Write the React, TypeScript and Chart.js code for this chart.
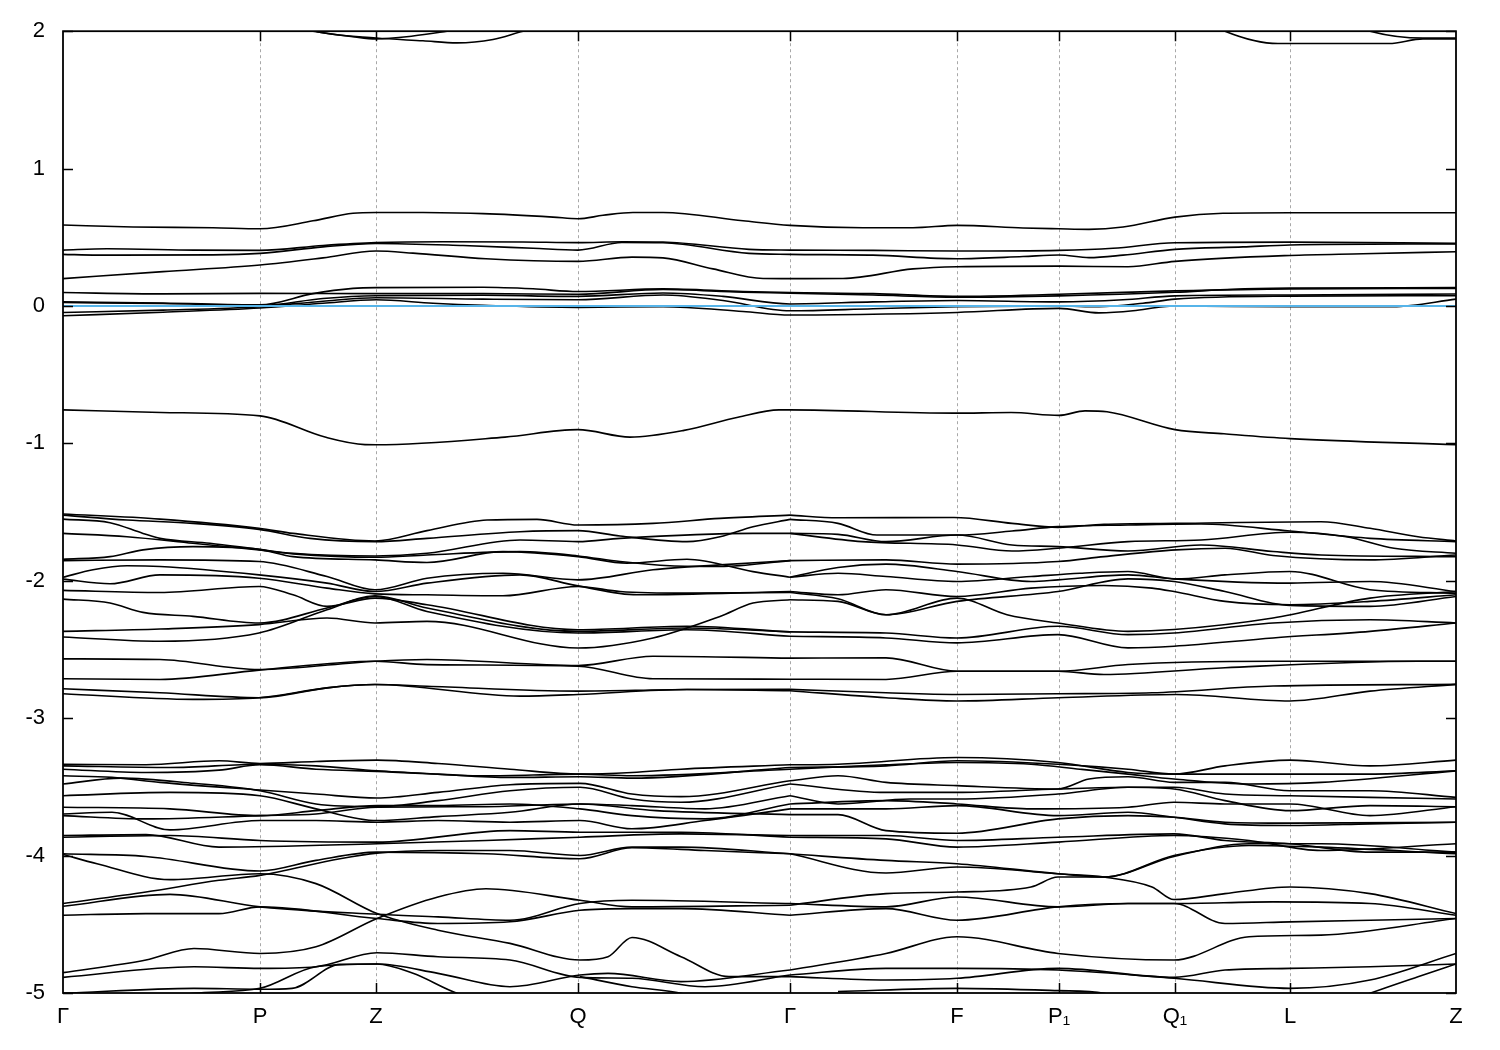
import React, { useEffect, useRef } from "react";
import { Chart, registerables } from "chart.js";

Chart.register(...registerables);

// High-symmetry points along the k-path (path length units) and their labels
const kPositions = [0, 197, 313, 515, 727, 894, 996, 1112, 1227, 1393];
const kLabels = ["Γ", "P", "Z", "Q", "Γ", "F", "P₁", "Q₁", "L", "Z"];

// Fermi level
const fermiLevel = 0;

// ---- bands near 2 eV ----
const bandT1 = [[220, 2.04], [250, 2.0], [290, 1.96], [313, 1.944], [350, 1.965], [384, 2.0], [410, 2.03]];
const bandT2 = [[240, 2.03], [258, 1.99], [313, 1.95], [360, 1.93], [394, 1.915], [430, 1.94], [460, 2.0], [490, 2.05]];
const bandT3 = [[1150, 2.05], [1162, 2.0], [1215, 1.91], [1326, 1.91], [1360, 1.944], [1393, 1.944]];
const bandT4 = [[1290, 2.05], [1307, 2.0], [1360, 1.95], [1393, 1.95]];

// ---- bands 0.2 .. 0.7 eV ----
const bandC1 = [[0, 0.589], [70, 0.575], [150, 0.57], [197, 0.562], [250, 0.62], [290, 0.675], [313, 0.681], [360, 0.68], [420, 0.672], [490, 0.647], [515, 0.635], [540, 0.66], [570, 0.681], [600, 0.681], [680, 0.62], [727, 0.587], [800, 0.57], [850, 0.57], [894, 0.587], [960, 0.568], [996, 0.562], [1026, 0.558], [1060, 0.575], [1112, 0.647], [1160, 0.675], [1227, 0.679], [1393, 0.679]];
const bandC2 = [[0, 0.407], [44, 0.417], [131, 0.407], [197, 0.405], [260, 0.44], [313, 0.461], [380, 0.468], [460, 0.466], [515, 0.461], [560, 0.468], [600, 0.466], [686, 0.412], [727, 0.407], [810, 0.405], [894, 0.4], [996, 0.405], [1050, 0.42], [1112, 0.46], [1227, 0.465], [1393, 0.456]];
const bandC3 = [[0, 0.376], [34, 0.37], [150, 0.372], [197, 0.383], [260, 0.43], [313, 0.455], [400, 0.44], [470, 0.42], [515, 0.407], [559, 0.462], [600, 0.46], [686, 0.383], [727, 0.376], [810, 0.37], [894, 0.344], [960, 0.36], [996, 0.371], [1026, 0.352], [1060, 0.37], [1112, 0.412], [1180, 0.43], [1227, 0.444], [1393, 0.452]];
const bandC4 = [[0, 0.199], [100, 0.25], [197, 0.298], [260, 0.35], [313, 0.4], [350, 0.385], [423, 0.344], [515, 0.325], [569, 0.356], [600, 0.35], [650, 0.27], [700, 0.2], [727, 0.199], [780, 0.2], [850, 0.27], [894, 0.286], [996, 0.29], [1065, 0.286], [1112, 0.325], [1227, 0.368], [1300, 0.38], [1393, 0.395]];

// ---- bands at the Fermi level ----
const bandN1 = [[0, 0.098], [100, 0.088], [197, 0.092], [313, 0.09], [420, 0.09], [515, 0.085], [600, 0.12], [680, 0.1], [727, 0.094], [810, 0.08], [894, 0.064], [996, 0.074], [1112, 0.1], [1170, 0.122], [1227, 0.13], [1393, 0.134]];
const bandN2 = [[0, 0.03], [100, 0.022], [197, 0.008], [250, 0.09], [290, 0.128], [313, 0.134], [420, 0.136], [470, 0.125], [515, 0.105], [600, 0.125], [680, 0.105], [727, 0.098], [810, 0.09], [894, 0.07], [996, 0.085], [1112, 0.11], [1227, 0.125], [1393, 0.128]];
const bandN3 = [[0, 0.025], [100, 0.018], [197, 0.003], [260, 0.055], [313, 0.075], [420, 0.078], [515, 0.07], [600, 0.095], [660, 0.07], [727, 0.015], [810, 0.03], [894, 0.04], [996, 0.03], [1060, 0.045], [1112, 0.074], [1227, 0.08], [1393, 0.087]];
const bandN4 = [[0, -0.047], [100, -0.03], [197, -0.005], [260, 0.035], [313, 0.06], [420, 0.05], [515, 0.045], [600, 0.08], [660, 0.04], [727, -0.035], [810, -0.02], [894, -0.005], [996, 0.0], [1036, -0.005], [1080, 0.02], [1112, 0.05], [1227, 0.072], [1393, 0.075]];
const bandN5 = [[0, -0.071], [100, -0.045], [197, -0.015], [260, 0.02], [313, 0.045], [370, 0.02], [420, 0.005], [515, -0.01], [600, -0.005], [680, -0.04], [727, -0.066], [810, -0.06], [894, -0.047], [996, -0.017], [1036, -0.05], [1070, -0.035], [1100, -0.005], [1112, 0.0], [1227, -0.005], [1330, -0.005], [1393, 0.05]];

// ---- band near -0.8 .. -1 eV ----
const bandM1 = [[0, -0.756], [98, -0.775], [197, -0.8], [262, -0.954], [302, -1.009], [313, -1.01], [442, -0.954], [515, -0.9], [567, -0.954], [621, -0.905], [675, -0.81], [716, -0.756], [727, -0.756], [891, -0.78], [948, -0.775], [996, -0.796], [1022, -0.763], [1044, -0.77], [1112, -0.9], [1161, -0.93], [1227, -0.965], [1393, -1.009]];

// ---- bands -1.5 .. -2.9 eV, Γ -> P -> Z -> Q -> Γ ----
const bandDa = [[0, -1.514], [97, -1.551], [196, -1.618], [230, -1.655], [312, -1.71], [364, -1.635], [424, -1.558], [474, -1.553], [515, -1.594], [590, -1.582], [657, -1.546], [727, -1.522]];
const bandDb = [[0, -1.522], [64, -1.558], [130, -1.582], [196, -1.626], [247, -1.691], [312, -1.715], [364, -1.691], [457, -1.643], [515, -1.635], [557, -1.674], [624, -1.715], [657, -1.679], [690, -1.606], [727, -1.553]];
const bandDc = [[0, -1.551], [47, -1.577], [80, -1.655], [97, -1.691], [147, -1.727], [196, -1.771], [230, -1.8], [312, -1.819], [364, -1.8], [457, -1.703], [515, -1.715], [557, -1.691], [690, -1.655], [727, -1.655]];
const bandDd = [[0, -1.655], [64, -1.679], [130, -1.727], [196, -1.775], [230, -1.804], [312, -1.829], [364, -1.812], [457, -1.788], [515, -1.819], [557, -1.86], [607, -1.891], [657, -1.896], [727, -1.853]];
const bandDe = [[0, -1.843], [47, -1.824], [80, -1.775], [130, -1.751], [196, -1.771], [230, -1.824], [312, -1.848], [364, -1.867], [440, -1.788], [515, -1.824], [564, -1.872], [624, -1.843], [690, -1.933], [727, -1.974]];
const bandDf = [[0, -1.853], [97, -1.848], [196, -1.86], [264, -1.969], [312, -2.065], [364, -1.981], [440, -1.945], [515, -1.993], [590, -1.92], [657, -1.884], [727, -1.853]];
const bandDg = [[0, -1.974], [30, -1.92], [64, -1.891], [97, -1.896], [196, -1.957], [264, -2.017], [312, -2.078], [364, -2.017], [457, -1.957], [515, -2.037], [574, -2.102], [727, -2.078]];
const bandDh = [[0, -1.988], [47, -2.022], [97, -1.957], [196, -1.981], [264, -2.053], [312, -2.095], [364, -2.102], [440, -2.109], [515, -2.041], [557, -2.078], [624, -2.09], [727, -2.085]];
const bandDi = [[0, -2.07], [97, -2.085], [196, -2.041], [230, -2.102], [264, -2.186], [312, -2.126], [364, -2.174], [515, -2.356], [624, -2.331], [727, -2.372]];
const bandDj = [[0, -2.133], [47, -2.162], [80, -2.23], [130, -2.259], [196, -2.307], [264, -2.198], [312, -2.114], [364, -2.223], [515, -2.38], [624, -2.356], [727, -2.404]];
const bandDk = [[0, -2.368], [97, -2.351], [196, -2.319], [264, -2.271], [312, -2.307], [364, -2.295], [515, -2.489], [590, -2.416], [657, -2.259], [690, -2.162], [727, -2.138]];
const bandDl = [[0, -2.409], [97, -2.44], [196, -2.38], [264, -2.211], [312, -2.109], [364, -2.198], [515, -2.368], [624, -2.343], [727, -2.372]];
const bandDm = [[0, -2.568], [97, -2.573], [196, -2.646], [312, -2.585], [364, -2.573], [515, -2.617], [590, -2.549], [727, -2.563]];
const bandDn = [[0, -2.713], [97, -2.718], [196, -2.65], [312, -2.585], [364, -2.61], [515, -2.622], [590, -2.713], [727, -2.716]];
const bandDo = [[0, -2.786], [97, -2.815], [196, -2.851], [264, -2.779], [312, -2.755], [364, -2.767], [515, -2.803], [624, -2.791], [727, -2.79]];
const bandDp = [[0, -2.822], [130, -2.863], [196, -2.851], [264, -2.779], [312, -2.755], [457, -2.839], [515, -2.827], [624, -2.791], [727, -2.8]];

// ---- bands -1.5 .. -2.9 eV, Γ -> F -> P1 -> Q1 -> L -> Z ----
const bandR1 = [[727, -1.522], [775, -1.541], [891, -1.539], [949, -1.582], [995, -1.611], [1041, -1.589], [1113, -1.582], [1258, -1.57], [1307, -1.618], [1355, -1.679], [1393, -1.71]];
const bandR2 = [[727, -1.553], [775, -1.582], [814, -1.667], [894, -1.667], [949, -1.638], [995, -1.606], [1065, -1.594], [1138, -1.587], [1227, -1.638], [1307, -1.691], [1393, -1.715]];
const bandR3 = [[727, -1.655], [799, -1.715], [894, -1.739], [949, -1.783], [995, -1.763], [1065, -1.715], [1138, -1.703], [1227, -1.647], [1283, -1.679], [1331, -1.763], [1393, -1.8]];
const bandR4 = [[727, -1.655], [775, -1.662], [823, -1.715], [894, -1.667], [949, -1.739], [995, -1.751], [1065, -1.783], [1138, -1.739], [1210, -1.787], [1258, -1.812], [1393, -1.824]];
const bandR5 = [[727, -1.853], [823, -1.848], [894, -1.879], [995, -1.86], [1041, -1.824], [1113, -1.775], [1162, -1.763], [1210, -1.816], [1307, -1.848], [1393, -1.812]];
const bandR6 = [[727, -1.974], [775, -1.903], [823, -1.879], [894, -1.932], [968, -2.005], [995, -1.993], [1065, -1.957], [1111, -1.986], [1227, -2.017], [1307, -2.005], [1393, -2.078]];
const bandR7 = [[727, -1.974], [775, -1.945], [823, -1.969], [894, -2.005], [968, -1.969], [1017, -1.945], [1065, -1.932], [1113, -1.986], [1162, -1.957], [1227, -1.932], [1307, -2.065], [1393, -2.09]];
const bandR8 = [[727, -2.078], [775, -2.102], [823, -2.065], [894, -2.114], [968, -2.053], [1041, -2.034], [1089, -2.053], [1111, -2.078], [1162, -2.15], [1227, -2.174], [1307, -2.15], [1393, -2.102]];
const bandR9 = [[727, -2.085], [775, -2.131], [823, -2.247], [894, -2.15], [995, -2.078], [1065, -1.986], [1111, -2.005], [1162, -2.078], [1227, -2.179], [1307, -2.186], [1393, -2.114]];
const bandR10 = [[727, -2.138], [775, -2.15], [823, -2.247], [894, -2.126], [944, -2.247], [995, -2.307], [1065, -2.368], [1111, -2.355], [1210, -2.271], [1307, -2.126], [1393, -2.078]];
const bandR11 = [[727, -2.372], [823, -2.38], [894, -2.416], [995, -2.331], [1065, -2.392], [1111, -2.38], [1210, -2.307], [1307, -2.283], [1393, -2.307]];
const bandR12 = [[727, -2.404], [823, -2.416], [894, -2.452], [995, -2.392], [1065, -2.488], [1111, -2.476], [1210, -2.416], [1307, -2.368], [1393, -2.307]];
const bandR13 = [[727, -2.563], [823, -2.561], [894, -2.658], [995, -2.658], [1065, -2.609], [1210, -2.585], [1393, -2.585]];
const bandR14 = [[727, -2.716], [823, -2.718], [894, -2.658], [995, -2.658], [1041, -2.682], [1162, -2.633], [1355, -2.585], [1393, -2.585]];
const bandR15 = [[727, -2.79], [823, -2.815], [894, -2.827], [995, -2.822], [1089, -2.815], [1210, -2.766], [1393, -2.754]];
const bandR16 = [[727, -2.8], [823, -2.851], [894, -2.875], [995, -2.851], [1113, -2.827], [1227, -2.875], [1307, -2.803], [1393, -2.754]];

// ---- bands -3.3 .. -5 eV, Γ -> P -> Z -> Q -> Γ ----
const bandEL1 = [[0, -3.335], [83, -3.339], [156, -3.31], [197, -3.33], [253, -3.315], [314, -3.305], [375, -3.33], [447, -3.371], [517, -3.407], [569, -3.395], [618, -3.371], [727, -3.339]];
const bandEL2 = [[0, -3.347], [107, -3.359], [197, -3.335], [253, -3.347], [314, -3.383], [375, -3.407], [447, -3.431], [517, -3.426], [569, -3.436], [727, -3.359]];
const bandEL3 = [[0, -3.371], [83, -3.395], [156, -3.378], [197, -3.339], [253, -3.371], [314, -3.387], [423, -3.419], [517, -3.407], [569, -3.419], [727, -3.371]];
const bandEL4 = [[0, -3.419], [49, -3.431], [97, -3.467], [197, -3.523], [253, -3.552], [314, -3.581], [375, -3.54], [447, -3.484], [517, -3.474], [569, -3.552], [618, -3.571], [727, -3.455]];
const bandEL5 = [[0, -3.479], [58, -3.436], [131, -3.474], [197, -3.528], [253, -3.624], [314, -3.644], [375, -3.6], [447, -3.528], [517, -3.503], [569, -3.588], [618, -3.612], [727, -3.479]];
const bandEL6 = [[0, -3.564], [107, -3.54], [197, -3.564], [253, -3.66], [314, -3.745], [375, -3.716], [447, -3.685], [517, -3.624], [569, -3.636], [642, -3.66], [727, -3.564]];
const bandEL7 = [[0, -3.648], [107, -3.66], [197, -3.709], [253, -3.673], [314, -3.636], [375, -3.636], [447, -3.624], [517, -3.66], [569, -3.709], [642, -3.733], [727, -3.624]];
const bandEL8 = [[0, -3.697], [49, -3.685], [107, -3.813], [197, -3.745], [253, -3.745], [314, -3.757], [375, -3.745], [447, -3.757], [517, -3.745], [569, -3.805], [642, -3.745], [727, -3.66]];
const bandEL9 = [[0, -3.709], [83, -3.733], [197, -3.709], [253, -3.697], [314, -3.648], [423, -3.644], [517, -3.624], [593, -3.673], [727, -3.702]];
const bandEL10 = [[0, -3.854], [83, -3.847], [156, -3.938], [314, -3.914], [423, -3.89], [517, -3.866], [618, -3.842], [727, -3.854]];
const bandEL11 = [[0, -3.866], [107, -3.854], [197, -3.89], [314, -3.902], [447, -3.818], [517, -3.83], [618, -3.83], [727, -3.866]];
const bandEL12 = [[0, -3.987], [83, -4.006], [197, -4.112], [253, -4.035], [314, -3.975], [423, -3.987], [517, -4.023], [569, -3.943], [642, -3.963], [727, -3.987]];
const bandEL13 = [[0, -3.992], [34, -4.059], [107, -4.175], [197, -4.132], [253, -4.204], [314, -4.422], [375, -4.543], [447, -4.639], [517, -4.76], [545, -4.736], [569, -4.596], [618, -4.736], [666, -4.881], [727, -4.881]];
const bandEL14 = [[0, -4.349], [83, -4.265], [156, -4.18], [197, -4.144], [277, -4.023], [314, -3.982], [375, -3.963], [447, -3.963], [517, -3.999], [569, -3.938], [618, -3.938], [727, -3.987]];
const bandEL15 = [[0, -4.369], [107, -4.282], [197, -4.373], [314, -4.427], [375, -4.446], [447, -4.47], [517, -4.349], [569, -4.325], [727, -4.349]];
const bandEL16 = [[0, -4.434], [83, -4.422], [156, -4.422], [197, -4.373], [314, -4.458], [375, -4.494], [447, -4.482], [517, -4.398], [569, -4.386], [618, -4.386], [727, -4.434]];
const bandEL17 = [[0, -4.852], [83, -4.76], [131, -4.676], [197, -4.712], [253, -4.664], [314, -4.458], [375, -4.301], [423, -4.241], [517, -4.325], [569, -4.373], [727, -4.361]];
const bandEL18 = [[0, -4.886], [131, -4.809], [197, -4.821], [253, -4.809], [314, -4.707], [375, -4.736], [447, -4.76], [517, -4.886], [569, -4.893], [642, -4.954], [727, -4.869]];
const bandEL19 = [[0, -5.002], [131, -4.966], [197, -4.973], [229, -4.966], [277, -4.792], [314, -4.789], [375, -4.857], [447, -4.954], [517, -4.869], [545, -4.857], [618, -4.917], [727, -4.833]];
const bandEL20 = [[83, -5.05], [131, -5.002], [197, -4.966], [253, -4.809], [314, -4.789], [350, -4.857], [394, -5.002], [420, -5.05]];
const bandEL21 = [[517, -4.881], [569, -4.954], [618, -5.002], [640, -5.05]];

// ---- bands -3.3 .. -5 eV, Γ -> F -> P1 -> Q1 -> L -> Z ----
const bandER1 = [[727, -3.339], [775, -3.335], [894, -3.286], [995, -3.322], [1065, -3.395], [1111, -3.407], [1162, -3.347], [1227, -3.305], [1307, -3.347], [1393, -3.305]];
const bandER2 = [[727, -3.359], [823, -3.347], [894, -3.31], [995, -3.335], [1065, -3.371], [1111, -3.407], [1227, -3.407], [1307, -3.407], [1393, -3.383]];
const bandER3 = [[727, -3.371], [823, -3.339], [894, -3.322], [968, -3.335], [1017, -3.371], [1065, -3.407], [1111, -3.443], [1186, -3.479], [1258, -3.467], [1393, -3.383]];
const bandER4 = [[727, -3.455], [775, -3.419], [823, -3.467], [894, -3.491], [995, -3.515], [1026, -3.443], [1065, -3.426], [1111, -3.467], [1162, -3.467], [1227, -3.528], [1307, -3.528], [1393, -3.576]];
const bandER5 = [[727, -3.479], [823, -3.54], [894, -3.54], [995, -3.515], [1065, -3.503], [1111, -3.503], [1162, -3.552], [1227, -3.564], [1307, -3.576], [1393, -3.588]];
const bandER6 = [[727, -3.564], [775, -3.624], [847, -3.588], [894, -3.588], [995, -3.552], [1065, -3.503], [1111, -3.515], [1162, -3.6], [1227, -3.673], [1307, -3.636], [1393, -3.644]];
const bandER7 = [[727, -3.624], [823, -3.6], [894, -3.624], [968, -3.66], [1065, -3.648], [1111, -3.612], [1162, -3.624], [1227, -3.624], [1307, -3.709], [1393, -3.644]];
const bandER8 = [[727, -3.66], [823, -3.66], [894, -3.636], [995, -3.709], [1065, -3.685], [1111, -3.721], [1162, -3.769], [1227, -3.781], [1307, -3.769], [1393, -3.757]];
const bandER9 = [[727, -3.702], [775, -3.702], [823, -3.818], [894, -3.837], [995, -3.733], [1065, -3.709], [1111, -3.721], [1162, -3.757], [1227, -3.764], [1393, -3.757]];
const bandER10 = [[727, -3.854], [823, -3.854], [894, -3.89], [995, -3.866], [1111, -3.842], [1162, -3.89], [1227, -3.914], [1307, -3.975], [1393, -3.975]];
const bandER11 = [[727, -3.866], [823, -3.878], [894, -3.938], [995, -3.902], [1111, -3.854], [1186, -3.89], [1258, -3.963], [1393, -3.914]];
const bandER12 = [[727, -3.987], [823, -4.127], [894, -4.083], [995, -4.132], [1041, -4.156], [1111, -3.999], [1186, -3.926], [1258, -3.938], [1393, -3.987]];
const bandER13 = [[727, -3.987], [823, -4.035], [894, -4.059], [995, -4.132], [1041, -4.156], [1089, -4.228], [1111, -4.32], [1162, -4.277], [1227, -4.228], [1307, -4.277], [1393, -4.422]];
const bandER14 = [[727, -4.361], [823, -4.277], [894, -4.265], [968, -4.228], [995, -4.156], [1041, -4.156], [1111, -4.006], [1186, -3.914], [1258, -3.914], [1393, -3.975]];
const bandER15 = [[727, -4.349], [823, -4.373], [894, -4.301], [995, -4.373], [1065, -4.349], [1111, -4.349], [1210, -4.337], [1307, -4.349], [1393, -4.434]];
const bandER16 = [[727, -4.434], [823, -4.386], [894, -4.47], [995, -4.373], [1065, -4.349], [1111, -4.349], [1162, -4.494], [1227, -4.482], [1307, -4.47], [1393, -4.458]];
const bandER17 = [[727, -4.833], [823, -4.712], [894, -4.591], [995, -4.712], [1111, -4.76], [1186, -4.591], [1258, -4.579], [1393, -4.458]];
const bandER18 = [[727, -4.869], [823, -4.821], [894, -4.821], [995, -4.833], [1111, -4.893], [1227, -4.966], [1307, -4.905], [1393, -4.712]];
const bandER19 = [[727, -4.881], [823, -4.905], [894, -4.893], [995, -4.821], [1111, -4.886], [1162, -4.833], [1227, -4.821], [1307, -4.809], [1393, -4.789]];
const bandER20 = [[775, -4.99], [894, -4.966], [995, -4.983], [1041, -5.002], [1060, -5.05]];
const bandER21 = [[1290, -5.05], [1307, -5.002], [1355, -4.881], [1393, -4.789]];

const allBands = [
  bandT1, bandT2, bandT3, bandT4,
  bandC1, bandC2, bandC3, bandC4,
  bandN1, bandN2, bandN3, bandN4, bandN5,
  bandM1,
  bandDa, bandDb, bandDc, bandDd, bandDe, bandDf, bandDg, bandDh, bandDi, bandDj, bandDk, bandDl, bandDm, bandDn, bandDo, bandDp,
  bandR1, bandR2, bandR3, bandR4, bandR5, bandR6, bandR7, bandR8, bandR9, bandR10, bandR11, bandR12, bandR13, bandR14, bandR15, bandR16,
  bandEL1, bandEL2, bandEL3, bandEL4, bandEL5, bandEL6, bandEL7, bandEL8, bandEL9, bandEL10, bandEL11, bandEL12, bandEL13, bandEL14, bandEL15, bandEL16, bandEL17, bandEL18, bandEL19, bandEL20, bandEL21,
  bandER1, bandER2, bandER3, bandER4, bandER5, bandER6, bandER7, bandER8, bandER9, bandER10, bandER11, bandER12, bandER13, bandER14, bandER15, bandER16, bandER17, bandER18, bandER19, bandER20, bandER21,
];

const FONT = "'Liberation Sans', Arial, sans-serif";

const framePlugin = {
  id: "bandFrame",
  beforeDatasetsDraw(chart: any) {
    const { ctx, chartArea } = chart;
    const xs = chart.scales.x;
    ctx.save();
    ctx.strokeStyle = "#a8a8a8";
    ctx.lineWidth = 1;
    ctx.setLineDash([3, 3]);
    kPositions.slice(1, -1).forEach((k) => {
      const px = Math.round(xs.getPixelForValue(k)) + 0.5;
      ctx.beginPath();
      ctx.moveTo(px, chartArea.top);
      ctx.lineTo(px, chartArea.bottom);
      ctx.stroke();
    });
    ctx.restore();
  },
  afterDatasetsDraw(chart: any) {
    const { ctx, chartArea } = chart;
    const { left, right, top, bottom } = chartArea;
    const xs = chart.scales.x;
    const ys = chart.scales.y;
    ctx.save();
    ctx.strokeStyle = "#000";
    ctx.lineWidth = 1.8;
    ctx.setLineDash([]);
    ctx.strokeRect(left, top, right - left, bottom - top);
    ctx.lineWidth = 1.5;
    const tl = 10;
    ys.ticks.forEach((t: any) => {
      const py = Math.round(ys.getPixelForValue(t.value)) + 0.5;
      ctx.beginPath();
      ctx.moveTo(left, py);
      ctx.lineTo(left + tl, py);
      ctx.moveTo(right, py);
      ctx.lineTo(right - tl, py);
      ctx.stroke();
    });
    kPositions.slice(1, -1).forEach((k) => {
      const px = Math.round(xs.getPixelForValue(k)) + 0.5;
      ctx.beginPath();
      ctx.moveTo(px, top);
      ctx.lineTo(px, top + tl);
      ctx.moveTo(px, bottom);
      ctx.lineTo(px, bottom - tl);
      ctx.stroke();
    });
    ctx.restore();
  },
};

export default function App() {
  const canvasRef = useRef<HTMLCanvasElement | null>(null);

  useEffect(() => {
    const canvas = canvasRef.current;
    if (!canvas) return;

    const datasets: any[] = [
      {
        label: "Fermi level",
        data: [
          { x: kPositions[0], y: fermiLevel },
          { x: kPositions[kPositions.length - 1], y: fermiLevel },
        ],
        borderColor: "#56B4E9",
        borderWidth: 2,
        pointRadius: 0,
        tension: 0,
      },
      ...allBands.map((band, i) => ({
        label: "band " + (i + 1),
        data: band.map(([x, y]) => ({ x, y })),
        borderColor: "#000000",
        borderWidth: 1.6,
        pointRadius: 0,
        cubicInterpolationMode: "monotone",
      })),
    ];

    const chart = new Chart(canvas, {
      type: "line",
      data: { datasets },
      plugins: [framePlugin],
      options: {
        animation: false,
        responsive: false,
        maintainAspectRatio: false,
        layout: { padding: { left: 0, right: 44, top: 28, bottom: 0 } },
        plugins: { legend: { display: false }, tooltip: { enabled: false } },
        scales: {
          x: {
            type: "linear",
            min: kPositions[0],
            max: kPositions[kPositions.length - 1],
            afterBuildTicks: (scale: any) => {
              scale.ticks = kPositions.map((v) => ({ value: v }));
            },
            afterFit: (scale: any) => {
              scale.height = 57;
            },
            grid: { display: false, drawTicks: false },
            border: { display: false },
            ticks: {
              autoSkip: false,
              maxRotation: 0,
              minRotation: 0,
              padding: 11,
              color: "#000",
              font: { family: FONT, size: 22 },
              callback: (value: any) => {
                const idx = kPositions.indexOf(Number(value));
                return idx >= 0 ? kLabels[idx] : "";
              },
            },
          },
          y: {
            type: "linear",
            min: -5,
            max: 2,
            afterFit: (scale: any) => {
              scale.width = 63;
            },
            grid: { display: false, drawTicks: false },
            border: { display: false },
            ticks: {
              stepSize: 1,
              padding: 18,
              color: "#000",
              font: { family: FONT, size: 22 },
              callback: (value: any) => String(value),
            },
          },
        },
      },
    });

    return () => {
      chart.destroy();
    };
  }, []);

  return (
    <div style={{ position: "absolute", left: 0, top: 0, width: 1500, height: 1050, background: "#fff" }}>
      <canvas ref={canvasRef} width={1500} height={1050} style={{ display: "block" }} />
    </div>
  );
}
